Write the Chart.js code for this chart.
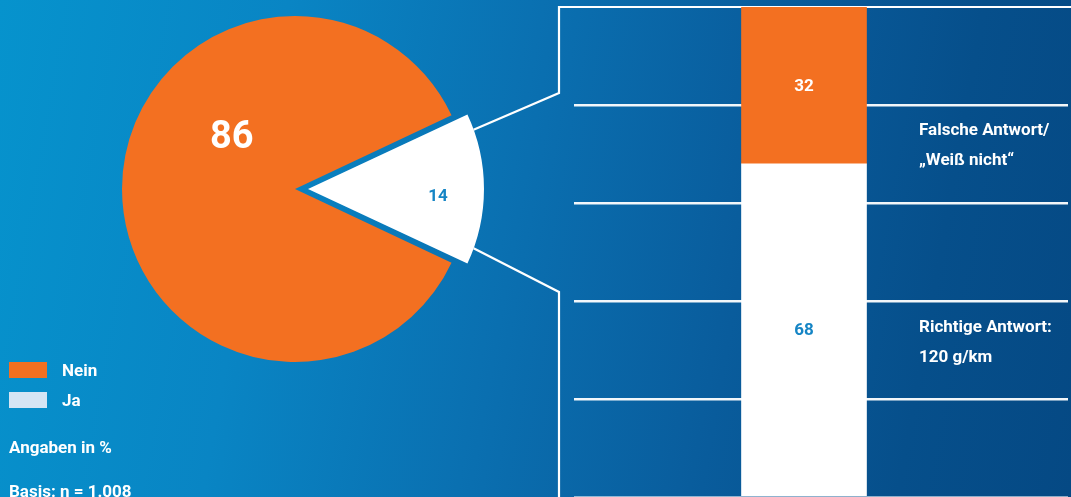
<!DOCTYPE html>
<html lang="de">
<head>
<meta charset="utf-8">
<title>Richtige Antwort: 120 g/km</title>
<script src="https://cdn.jsdelivr.net/npm/chart.js@4.4.1/dist/chart.umd.min.js"></script>
<style>
  html, body { margin: 0; padding: 0; }
  body {
    width: 1071px; height: 497px; overflow: hidden; position: relative;
    background: linear-gradient(100deg, #0693cd 0%, #0985c4 25%, #0a6fb0 48%, #095c9c 68%, #064f8b 85%, #054984 100%);
    font-family: Roboto, "Noto Sans", "DejaVu Sans", sans-serif;
    color: #fff;
  }
  canvas { position: absolute; top: 0; }
  #pie { left: 0; width: 1071px; height: 497px; }
  #bar { left: 574px; width: 494px; height: 497px; }
  .txt { position: absolute; font-size: 17px; font-weight: bold; white-space: nowrap; }
  .legend-row { position: absolute; left: 9px; height: 16px; }
  .legend-row .box { position: absolute; left: 0; top: 0; width: 38px; height: 16px; }
  .legend-row .lab { position: absolute; left: 53px; top: -2px; line-height: 20px; font-size: 17px; font-weight: bold; }
  .side { position: absolute; left: 919px; font-size: 17px; font-weight: bold; line-height: 30px; white-space: nowrap; }
</style>
</head>
<body>
<canvas id="pie" width="1071" height="497"></canvas>
<canvas id="bar" width="494" height="497"></canvas>
<div id="legend"></div>
<div id="notes"></div>
<div id="side"></div>
<script>
// Share of respondents (pie) and, for "Ja", the split into correct / wrong answers (bar)
const pieLabels = ['Nein', 'Ja'];
const pieValues = [86, 14];
const pieColors = ['#f37021', '#ffffff'];
const legendColors = ['#f37021', '#d5e5f4'];

const barCategories = ['Ja'];
const correctValues = [68];
const wrongValues = [32];
const barSeriesNames = ['Richtige Antwort', 'Falsche Antwort'];
const sideLabels = [['Falsche Antwort/', '\u201eWei\u00df nicht\u201c'], ['Richtige Antwort:', '120 g/km']];
const notes = ['Angaben in %', 'Basis: n = 1.008'];

const ORANGE = '#f37021';
const BLUE_TEXT = '#1585c5';

const total = pieValues.reduce((a, b) => a + b, 0);
const jaSweep = pieValues[1] / total * 360;

// translation Chart.js applies to an arc with a given offset
function arcShift(arc) {
  const off = (arc.options.offset || 0) / 4;
  const circ = arc.endAngle - arc.startAngle;
  const fix = 1 - Math.sin(Math.min(Math.PI, circ));
  return off * (1 + fix);
}

const pieLabelPlugin = {
  id: 'pieLabels',
  afterDatasetsDraw(chart) {
    const ctx = chart.ctx;
    const arcs = chart.getDatasetMeta(0).data;
    const place = [
      { turn: 39, dist: 0.47, font: 'bold 38px Roboto, sans-serif', color: '#ffffff' },
      { turn: 3, dist: 0.735, font: 'bold 17px Roboto, sans-serif', color: BLUE_TEXT }
    ];
    ctx.save();
    ctx.textAlign = 'center';
    ctx.textBaseline = 'middle';
    arcs.forEach((arc, i) => {
      const mid = (arc.startAngle + arc.endAngle) / 2;
      const s = arcShift(arc);
      const cx = arc.x + Math.cos(mid) * s;
      const cy = arc.y + Math.sin(mid) * s;
      const a = mid + place[i].turn * Math.PI / 180;
      const r = arc.outerRadius * place[i].dist;
      ctx.font = place[i].font;
      ctx.fillStyle = place[i].color;
      ctx.fillText(String(pieValues[i]), cx + Math.cos(a) * r, cy + Math.sin(a) * r + 1);
    });
    ctx.restore();
  }
};

// connector lines from the exploded slice to the frame round the bar
const connectorPlugin = {
  id: 'connector',
  afterDraw(chart) {
    const ctx = chart.ctx;
    const arc = chart.getDatasetMeta(0).data[1];
    const mid = (arc.startAngle + arc.endAngle) / 2;
    const s = arcShift(arc);
    const cx = arc.x + Math.cos(mid) * s;
    const cy = arc.y + Math.sin(mid) * s;
    const inset = 5.2 * Math.PI / 180;
    const a1 = arc.startAngle + inset, a2 = arc.endAngle - inset;
    const p1 = [cx + Math.cos(a1) * arc.outerRadius, cy + Math.sin(a1) * arc.outerRadius];
    const p2 = [cx + Math.cos(a2) * arc.outerRadius, cy + Math.sin(a2) * arc.outerRadius];
    const frameX = 559, frameTop = 7, frameRight = 1071, bottom = 497;
    ctx.save();
    ctx.strokeStyle = '#ffffff';
    ctx.lineWidth = 2.2;
    ctx.lineJoin = 'miter';
    ctx.beginPath();
    ctx.moveTo(p1[0], p1[1]);
    ctx.lineTo(frameX, 93);
    ctx.lineTo(frameX, frameTop);
    ctx.lineTo(frameRight, frameTop);
    ctx.stroke();
    ctx.beginPath();
    ctx.moveTo(p2[0], p2[1]);
    ctx.lineTo(frameX, 292);
    ctx.lineTo(frameX, bottom + 2);
    ctx.stroke();
    ctx.restore();
  }
};

new Chart(document.getElementById('pie'), {
  type: 'pie',
  data: {
    labels: pieLabels,
    datasets: [{
      data: pieValues,
      backgroundColor: pieColors,
      borderWidth: 0,
      offset: [0, 52]
    }]
  },
  options: {
    responsive: false,
    animation: false,
    rotation: 90 + jaSweep / 2,
    radius: 173,
    layout: { padding: { left: 0, top: 0, right: 481, bottom: 119 } },
    plugins: { legend: { display: false }, tooltip: { enabled: false } }
  },
  plugins: [pieLabelPlugin, connectorPlugin]
});

const barValuePlugin = {
  id: 'barValues',
  afterDatasetsDraw(chart) {
    const ctx = chart.ctx;
    const colors = [BLUE_TEXT, '#ffffff'];
    ctx.save();
    ctx.textAlign = 'center';
    ctx.textBaseline = 'middle';
    ctx.font = 'bold 17px Roboto, sans-serif';
    chart.data.datasets.forEach((ds, i) => {
      chart.getDatasetMeta(i).data.forEach((bar, j) => {
        const p = bar.getCenterPoint();
        ctx.fillStyle = colors[i];
        ctx.fillText(String(ds.data[j]), p.x, p.y + 1);
      });
    });
    ctx.restore();
  }
};

new Chart(document.getElementById('bar'), {
  type: 'bar',
  data: {
    labels: barCategories,
    datasets: [
      { label: barSeriesNames[0], data: correctValues, backgroundColor: '#ffffff', barThickness: 125 },
      { label: barSeriesNames[1], data: wrongValues, backgroundColor: ORANGE, barThickness: 125 }
    ]
  },
  options: {
    responsive: false,
    animation: false,
    layout: { padding: { top: 7, bottom: 0, left: 0, right: 0 } },
    scales: {
      x: { stacked: true, display: false },
      y: {
        stacked: true, position: 'right', min: 0, max: 100,
        ticks: { display: false, stepSize: 20 },
        border: { display: false },
        grid: {
          lineWidth: 2.5,
          color: c => c.tick.value === 100 ? 'rgba(0,0,0,0)' : (c.tick.value === 0 ? 'rgba(255,255,255,0.55)' : 'rgba(255,255,255,0.95)'),
          drawTicks: true,
          tickLength: 34
        }
      }
    },
    plugins: { legend: { display: false }, tooltip: { enabled: false } }
  },
  plugins: [barValuePlugin]
});

// legend and notes
const legend = document.getElementById('legend');
pieLabels.forEach((name, i) => {
  const row = document.createElement('div');
  row.className = 'legend-row';
  row.style.top = (362 + i * 30) + 'px';
  row.innerHTML = '<div class="box" style="background:' + legendColors[i] + '"></div><div class="lab"></div>';
  row.querySelector('.lab').textContent = name;
  legend.appendChild(row);
});
const notesEl = document.getElementById('notes');
notes.forEach((t, i) => {
  const d = document.createElement('div');
  d.className = 'txt';
  d.style.left = '9px';
  d.style.top = (437 + i * 44) + 'px';
  d.style.lineHeight = '20px';
  d.textContent = t;
  notesEl.appendChild(d);
});
const side = document.getElementById('side');
[114, 311].forEach((top, i) => {
  const d = document.createElement('div');
  d.className = 'side';
  d.style.top = top + 'px';
  sideLabels[i].forEach(line => {
    const l = document.createElement('div');
    l.textContent = line;
    d.appendChild(l);
  });
  side.appendChild(d);
});
</script>
</body>
</html>
